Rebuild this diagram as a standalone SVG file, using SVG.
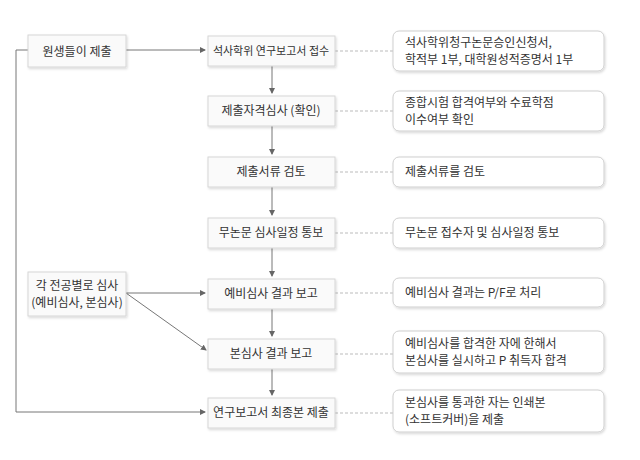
<svg xmlns="http://www.w3.org/2000/svg" width="640" height="460" viewBox="0 0 640 460">
<defs>
<marker id="ah" markerWidth="6" markerHeight="6" refX="5" refY="3" orient="auto" markerUnits="userSpaceOnUse"><path d="M0,0 L6,3 L0,6 z" fill="#666"/></marker>
<filter id="sh" x="-10%" y="-10%" width="130%" height="140%"><feDropShadow dx="1" dy="1.5" stdDeviation="1" flood-color="#000" flood-opacity="0.15"/></filter>
</defs>
<style>
.b{fill:#fafafa;stroke:#d6d6d6;stroke-width:1;filter:url(#sh)}
.r{fill:#fff;stroke:#cfcfcf;stroke-width:1;filter:url(#sh)}
text{font-family:"Noto Sans CJK KR","Noto Sans",sans-serif;font-size:12px;fill:#333}
.c{text-anchor:middle}
.l{stroke:#777;stroke-width:1;fill:none}
.d{stroke:#bbb;stroke-width:1;stroke-dasharray:3,2;fill:none}
</style>
<rect width="640" height="460" fill="#fff"/>
<g id="connectors">
<path class="l" d="M126,50 H205" marker-end="url(#ah)"/>
<path class="l" d="M28,50 H16 V412 H205" marker-end="url(#ah)"/>
<path class="l" d="M126,293 H205" marker-end="url(#ah)"/>
<path class="l" d="M126,293 L206,350" marker-end="url(#ah)"/>
<path class="l" d="M272,66 V93" marker-end="url(#ah)"/>
<path class="l" d="M272,126 V154" marker-end="url(#ah)"/>
<path class="l" d="M272,187 V215" marker-end="url(#ah)"/>
<path class="l" d="M272,248 V276" marker-end="url(#ah)"/>
<path class="l" d="M272,309 V336" marker-end="url(#ah)"/>
<path class="l" d="M272,369 V395" marker-end="url(#ah)"/>
<path class="d" d="M335,51 H393 M335,111 H393 M335,172 H393 M335,233 H393 M335,293 H393 M335,354 H393 M335,413 H393"/>
</g>
<g id="n-submit"><rect class="b" x="28" y="35" width="98" height="32"/><text class="c" x="77" y="56">원생들이 제출</text></g>
<g id="n-major"><rect class="b" x="28" y="272" width="98" height="44"/><text class="c" x="77" y="290">각 전공별로 심사</text><text class="c" x="77" y="307">(예비심사, 본심사)</text></g>
<g id="m1"><rect class="b" x="208" y="36" width="127" height="30"/><text class="c" x="271" y="55" style="font-size:11px">석사학위 연구보고서 접수</text></g>
<g id="m2"><rect class="b" x="208" y="96" width="127" height="30"/><text class="c" x="271" y="115">제출자격심사 (확인)</text></g>
<g id="m3"><rect class="b" x="208" y="157" width="127" height="30"/><text class="c" x="271" y="176">제출서류 검토</text></g>
<g id="m4"><rect class="b" x="208" y="218" width="127" height="30"/><text class="c" x="271" y="237">무논문 심사일정 통보</text></g>
<g id="m5"><rect class="b" x="208" y="279" width="127" height="30"/><text class="c" x="271" y="298">예비심사 결과 보고</text></g>
<g id="m6"><rect class="b" x="208" y="339" width="127" height="30"/><text class="c" x="271" y="358">본심사 결과 보고</text></g>
<g id="m7"><rect class="b" x="208" y="398" width="127" height="30"/><text class="c" x="271" y="417">연구보고서 최종본 제출</text></g>
<g id="r1"><rect class="r" x="393" y="31" width="211" height="40" rx="6"/><text x="405" y="47">석사학위청구논문승인신청서,</text><text x="405" y="64">학적부 1부, 대학원성적증명서 1부</text></g>
<g id="r2"><rect class="r" x="393" y="91" width="211" height="40" rx="6"/><text x="405" y="107">종합시험 합격여부와 수료학점</text><text x="405" y="124">이수여부 확인</text></g>
<g id="r3"><rect class="r" x="393" y="157" width="211" height="30" rx="6"/><text x="405" y="176">제출서류를 검토</text></g>
<g id="r4"><rect class="r" x="393" y="218" width="211" height="30" rx="6"/><text x="405" y="237">무논문 접수자 및 심사일정 통보</text></g>
<g id="r5"><rect class="r" x="393" y="278" width="211" height="29" rx="6"/><text x="405" y="297">예비심사 결과는 P/F로 처리</text></g>
<g id="r6"><rect class="r" x="393" y="331" width="211" height="42" rx="6"/><text x="405" y="348">예비심사를 합격한 자에 한해서</text><text x="405" y="365">본심사를 실시하고 P 취득자 합격</text></g>
<g id="r7"><rect class="r" x="393" y="390" width="211" height="42" rx="6"/><text x="405" y="407">본심사를 통과한 자는 인쇄본</text><text x="405" y="424">(소프트커버)을 제출</text></g>
</svg>
